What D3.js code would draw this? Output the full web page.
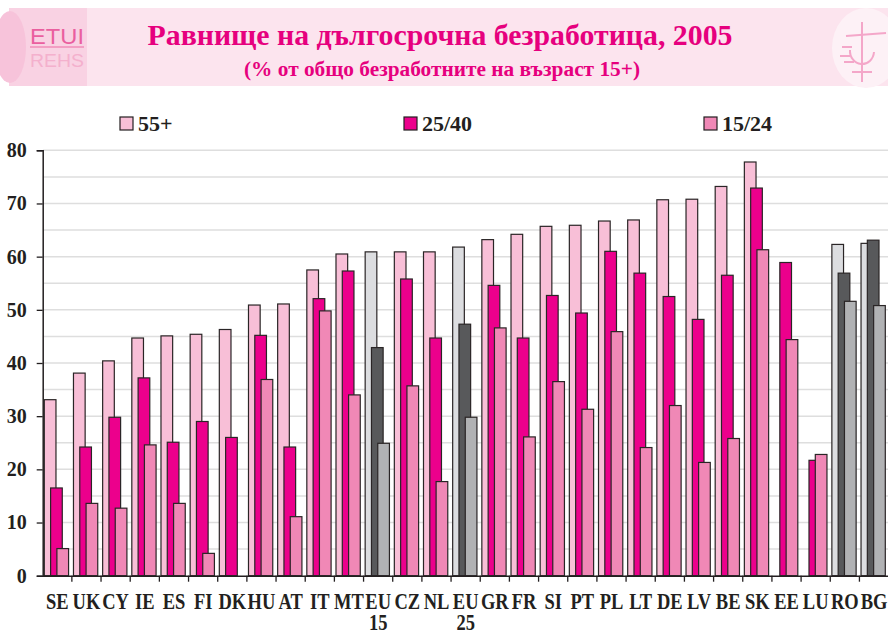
<!DOCTYPE html>
<html>
<head>
<meta charset="utf-8">
<script src="https://cdn.jsdelivr.net/npm/d3@7"></script>
<style>
  html, body { margin: 0; padding: 0; background: #fff; }
  svg { display: block; }
  text { font-family: "Liberation Serif", "Times New Roman", serif; font-weight: bold; }
</style>
</head>
<body>
<svg id="chart" width="888" height="633"></svg>
<script>
// Countries / aggregates along the x axis
const categories = ['SE','UK','CY','IE','ES','FI','DK','HU','AT','IT','MT','EU15','CZ','NL','EU25',
  'GR','FR','SI','PT','PL','LT','DE','LV','BE','SK','EE','LU','RO','BG'];
// aggregates and candidate countries are drawn in grey
const greyCats = ['EU15','EU25','RO','BG'];

// long-term unemployment share, % of unemployed
const age55 = [33.1,38.1,40.4,44.7,45.1,45.4,46.3,50.9,51.1,57.5,60.5,60.9,60.9,60.9,61.8,
  63.2,64.2,65.7,65.9,66.7,66.9,70.7,70.8,73.2,77.8,null,null,62.3,62.5];
const age25 = [16.5,24.2,29.8,37.2,25.1,29.0,26.0,45.2,24.2,52.1,57.3,42.9,55.8,44.7,47.3,
  54.6,44.7,52.7,49.4,61.0,56.9,52.5,48.2,56.5,72.9,58.9,21.7,56.9,63.1];
const age15 = [5.1,13.6,12.7,24.6,13.6,4.2,null,36.9,11.1,49.8,34.0,24.9,35.7,17.7,29.8,
  46.6,26.1,36.5,31.3,45.9,24.1,32.0,21.3,25.8,61.3,44.4,22.8,51.6,50.8];

const seriesNames = ['55+', '25/40', '15/24'];
const yTicks = [0,10,20,30,40,50,60,70,80];

const pinkColors = ['#f8bfd7', '#ec008c', '#f088b6'];
const greyColors = ['#dcdde0', '#58595b', '#b1b2b4'];

const svg = d3.select('#chart');

// ---- header band ----
const head = svg.append('g');
head.append('rect').attr('x', 9).attr('y', 8).attr('width', 879).attr('height', 78).attr('fill', '#fce4ee');
// left logo (faded)
head.append('rect').attr('x', 9).attr('y', 8).attr('width', 78).attr('height', 78).attr('fill', '#f9d2e3');
head.append('ellipse').attr('cx', 10).attr('cy', 47).attr('rx', 16).attr('ry', 36).attr('fill', '#f7c3da');
head.append('text').attr('x', 30).attr('y', 44).text('ETUI')
  .style('font-family', 'Liberation Sans, Arial, sans-serif').style('font-weight', 'normal')
  .attr('font-size', 22).attr('fill', '#ea5f9f').attr('textLength', 54).attr('lengthAdjust', 'spacingAndGlyphs');
head.append('line').attr('x1', 30).attr('x2', 84).attr('y1', 47).attr('y2', 47).attr('stroke', '#f08cb8').attr('stroke-width', 1.5);
head.append('text').attr('x', 30).attr('y', 67).text('REHS')
  .style('font-family', 'Liberation Sans, Arial, sans-serif').style('font-weight', 'normal')
  .attr('font-size', 19).attr('fill', '#f4b0cd').attr('textLength', 54).attr('lengthAdjust', 'spacingAndGlyphs');
// right logo (faded)
head.append('ellipse').attr('cx', 866).attr('cy', 48).attr('rx', 34).attr('ry', 40).attr('fill', '#fdf1f6');
const logo = head.append('g').attr('stroke', '#f28fbb').attr('fill', 'none').attr('stroke-width', 2).attr('opacity', 0.75);
logo.append('line').attr('x1', 862).attr('x2', 862).attr('y1', 22).attr('y2', 82);
logo.append('path').attr('d', 'M846,36 L886,33');
logo.append('path').attr('d', 'M850,50 A12,13 0 1,0 874,52');
logo.append('path').attr('d', 'M842,47 L852,47 M840,56 L850,56 M844,62 L854,62 M852,72 L872,72');

head.append('text').attr('x', 440).attr('y', 45).attr('text-anchor', 'middle')
  .attr('font-size', 30).attr('fill', '#e6007e')
  .attr('textLength', 585).attr('lengthAdjust', 'spacingAndGlyphs')
  .text('Равнище на дългосрочна безработица, 2005');
head.append('text').attr('x', 442).attr('y', 76).attr('text-anchor', 'middle')
  .attr('font-size', 20).attr('fill', '#e6007e')
  .attr('textLength', 396).attr('lengthAdjust', 'spacingAndGlyphs')
  .text('(% от общо безработните на възраст 15+)');

// ---- legend ----
const legendX = [120, 404, 704];
const legend = svg.append('g').selectAll('g').data(seriesNames).join('g')
  .attr('transform', (d, i) => `translate(${legendX[i]},117)`);
legend.append('rect').attr('width', 13).attr('height', 13)
  .attr('fill', (d, i) => pinkColors[i]).attr('stroke', '#231f20').attr('stroke-width', 1.2);
legend.append('text').attr('x', 18).attr('y', 14).attr('font-size', 22).attr('fill', '#231f20').text(d => d);

// ---- scales ----
const x = d3.scaleBand().domain(categories).range([42.7, 888.6]).padding(0);
const y = d3.scaleLinear().domain([0, 80]).range([575.7, 150.3]);

const bw = x.bandwidth();
const barW = bw * 0.4;
const step = bw * 0.216;
const groupOff = bw * 0.055;

// gridlines every 5
svg.append('g').selectAll('line').data(d3.range(5, 81, 5)).join('line')
  .attr('x1', 43).attr('x2', 888)
  .attr('y1', d => y(d)).attr('y2', d => y(d))
  .attr('stroke', '#dedede').attr('stroke-width', 1.5);

// ---- bars ----
const seriesVals = [age55, age25, age15];
const barsG = svg.append('g');
seriesVals.forEach((vals, s) => {
  const rows = categories.map((c, i) => ({ c, v: vals[i] })).filter(d => d.v != null);
  barsG.append('g').selectAll('rect').data(rows).join('rect')
    .attr('x', d => x(d.c) + groupOff + s * step)
    .attr('y', d => y(d.v))
    .attr('width', barW)
    .attr('height', d => y(0) - y(d.v))
    .attr('fill', d => greyCats.includes(d.c) ? greyColors[s] : pinkColors[s])
    .attr('stroke', '#2a2526').attr('stroke-width', 1.2);
});

// ---- axes ----
const yAxis = svg.append('g').attr('transform', 'translate(42.7,0)')
  .call(d3.axisLeft(y).tickValues(yTicks).tickSize(6).tickPadding(10).tickFormat(d3.format('d')));
yAxis.select('.domain').attr('stroke', '#231f20').attr('stroke-width', 1.5);
yAxis.selectAll('.tick line').attr('stroke', '#231f20').attr('stroke-width', 1.3);
yAxis.selectAll('.tick text').attr('font-size', 20).attr('fill', '#231f20')
  .style('font-family', '"Liberation Serif", "Times New Roman", serif').style('font-weight', 'bold');

const xAxis = svg.append('g').attr('transform', `translate(0,${y(0)})`)
  .call(d3.axisBottom(x).tickSize(0).tickFormat(''));
xAxis.select('.domain').attr('stroke', '#231f20').attr('stroke-width', 1.5);
xAxis.selectAll('.tick').remove();

// ticks between categories
const bounds = categories.map(c => x(c)).slice(1);
svg.append('g').selectAll('line').data(bounds).join('line')
  .attr('x1', d => d).attr('x2', d => d)
  .attr('y1', y(0)).attr('y2', y(0) + 6)
  .attr('stroke', '#231f20').attr('stroke-width', 1.3);

// category labels (EU15 / EU25 split over two lines)
const labG = svg.append('g').selectAll('g').data(categories).join('g')
  .attr('transform', d => `translate(${x(d) + bw / 2},609) scale(1,1.3)`);
labG.append('text').attr('text-anchor', 'middle').attr('font-size', 18.5).attr('fill', '#231f20')
  .text(d => d.startsWith('EU') ? 'EU' : d);
labG.filter(d => d.startsWith('EU')).append('text')
  .attr('text-anchor', 'middle').attr('y', 16).attr('font-size', 18.5).attr('fill', '#231f20')
  .text(d => d.slice(2));
</script>
</body>
</html>
